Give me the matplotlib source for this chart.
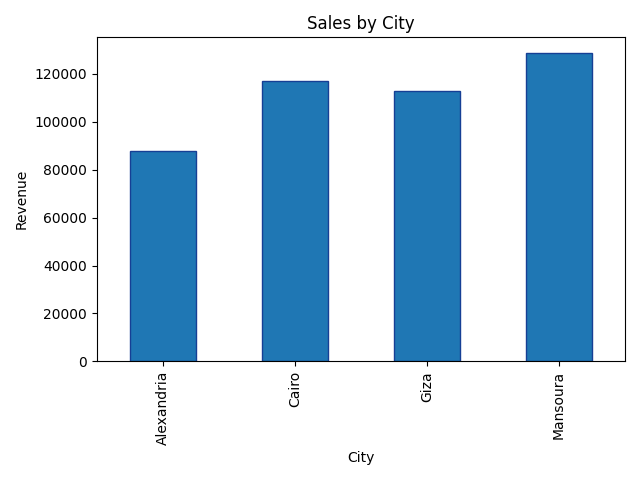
import pandas as pd
import matplotlib
matplotlib.use("Agg")
import matplotlib.pyplot as plt

# --- Data ---
cities = ["Alexandria", "Cairo", "Giza", "Mansoura"]
revenue = [87800, 117000, 112900, 128800]

sales = pd.Series(revenue, index=pd.Index(cities, name="City"))

# --- Plot ---
fig, ax = plt.subplots(figsize=(6.4, 4.8), dpi=100)
sales.plot(kind="bar", ax=ax, color="#1f77b4", edgecolor="#163f95", linewidth=1)
ax.set_title("Sales by City")
ax.set_xlabel("City")
ax.set_ylabel("Revenue")
plt.tight_layout()
plt.savefig("out.png")
